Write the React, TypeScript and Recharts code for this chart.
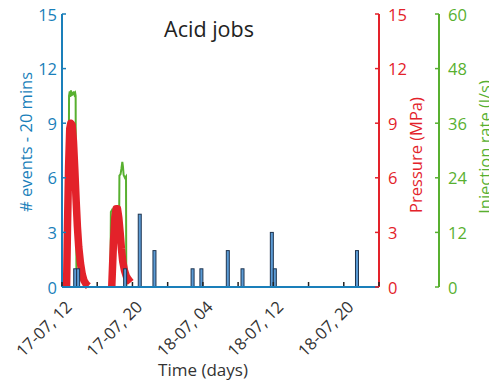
import React from 'react';
import { ComposedChart, Line, Bar, XAxis, YAxis } from 'recharts';

const BLUE = '#1a7fba';
const RED = '#e3222a';
const GREEN = '#58b030';
const BAR_FILL = '#5b9bd5';
const BAR_EDGE = '#1f3550';
const FONT = '"Open Sans", "DejaVu Sans", sans-serif';

// Time axis: hours after 17-07 12:00, a tick every 4 h, a label every 8 h
const timeTicks = [0, 4, 8, 12, 16, 20, 24, 28, 32, 36];
const timeTickLabels = ['17-07, 12', '', '17-07, 20', '', '18-07, 04', '', '18-07, 12', '', '18-07, 20', ''];

const eventTicks = [0, 3, 6, 9, 12, 15];
const pressureTicks = [0, 3, 6, 9, 12, 15];
const injectionTicks = [0, 12, 24, 36, 48, 60];

// Seismic events counted in 20-minute bins (bin midpoint, hours)
const eventHours = [1.5, 1.83, 7.17, 8.83, 10.5, 14.83, 15.83, 18.83, 20.5, 23.83, 24.17, 33.5];
const eventCounts = [1, 1, 1, 4, 2, 1, 1, 2, 1, 3, 1, 2];

// Wellhead pressure (MPa) during the two acid jobs; null splits the jobs
const pressureHours = [
  0.52, 0.62, 0.75, 0.88, 1.0, 1.15, 1.3, 1.45, 1.6, 1.75, 1.9, 2.1, 2.3, 2.5, 2.75, 3.0,
  4.0,
  5.65, 5.85, 6.0, 6.15, 6.3, 6.45, 6.6, 6.75, 6.9, 7.1, 7.3, 7.55, 7.8,
];
const pressureValues = [
  0, 3.2, 6.6, 8.7, 9.0, 8.9, 8.0, 6.5, 4.8, 3.3, 2.2, 1.3, 0.7, 0.35, 0.15, 0.05,
  null,
  0, 2.5, 3.8, 4.3, 4.3, 3.8, 3.0, 2.1, 1.4, 0.9, 0.6, 0.4, 0.25,
];

// Injection rate (l/s) during the two acid jobs; null splits the jobs
const injectionHours = [
  0.74, 0.76, 0.8, 0.88, 0.95, 1.02, 1.1, 1.18, 1.26, 1.34, 1.42, 1.5, 1.55, 1.57, 1.62, 1.64,
  4.0,
  5.5, 5.55, 5.7, 5.85, 6.0, 6.15, 6.3, 6.33, 6.48, 6.52, 6.65, 6.75, 6.85, 6.92, 7.0, 7.15, 7.27, 7.3,
];
const injectionValues = [
  0, 22, 42, 43, 41.8, 43.2, 42, 42.8, 42.2, 43, 42.3, 42.6, 42, 21, 20.5, 0,
  null,
  0, 16.5, 17, 16.4, 17, 16.5, 16, 11.5, 11, 24.5, 24.8, 26, 27.5, 26.5, 24.6, 24, 24.3, 0,
];

const eventData = eventHours.map((t, i) => ({ t, n: eventCounts[i] }));
const pressureData = pressureHours.map((t, i) => ({ t, p: pressureValues[i] }));
const injectionData = injectionHours.map((t, i) => ({ t, q: injectionValues[i] }));

const TICK_FONT = 16.5;

const TimeTick = (props: any) => {
  const { x, y, payload } = props;
  const idx = timeTicks.indexOf(payload.value);
  const label = idx >= 0 ? timeTickLabels[idx] : '';
  const lx = x + 11;
  const ly = y + 21;
  return (
    <g>
      <line x1={x} x2={x} y1={y - 1} y2={y - 5} stroke="#222" strokeWidth={1.5} />
      {label ? (
        <text
          x={lx}
          y={ly}
          transform={`rotate(-45 ${lx} ${ly})`}
          textAnchor="end"
          fill="#333"
          fontSize={TICK_FONT}
          fontFamily={FONT}
        >
          {label}
        </text>
      ) : null}
    </g>
  );
};

const LeftTick = (props: any) => {
  const { x, y, payload } = props;
  return (
    <g>
      <line x1={x} x2={x + 4} y1={y} y2={y} stroke={BLUE} strokeWidth={1.5} />
      <text x={x - 5} y={y} textAnchor="end" dominantBaseline="central" fill={BLUE} fontSize={TICK_FONT} fontFamily={FONT}>
        {payload.value}
      </text>
    </g>
  );
};

const makeRightTick = (color: string) => (props: any) => {
  const { x, y, payload } = props;
  return (
    <g>
      <line x1={x - 4} x2={x} y1={y} y2={y} stroke={color} strokeWidth={1.5} />
      <text x={x + 9} y={y} textAnchor="start" dominantBaseline="central" fill={color} fontSize={TICK_FONT} fontFamily={FONT}>
        {payload.value}
      </text>
    </g>
  );
};

const PressureTick = makeRightTick(RED);
const InjectionTick = makeRightTick(GREEN);

// Narrow outlined bar, centred on the bin midpoint
const EventBar = (props: any) => {
  const { x, y, width, height } = props;
  if (!height || height <= 0) return null;
  const cx = x + width / 2;
  return (
    <rect x={cx - 1.5} y={y} width={3} height={height} fill={BAR_FILL} stroke={BAR_EDGE} strokeWidth={1} />
  );
};

export default function App() {
  return (
    <div style={{ position: 'absolute', left: 0, top: 0, width: 489, height: 384, overflow: 'hidden', background: '#fff' }}>
      <ComposedChart
        width={489}
        height={384}
        data={eventData}
        margin={{ top: 14, right: 0, bottom: 0, left: 0 }}
      >
        <XAxis
          type="number"
          dataKey="t"
          domain={[0, 36]}
          ticks={timeTicks}
          interval={0}
          height={97}
          tickSize={0}
          tickMargin={0}
          tickLine={false}
          axisLine={{ stroke: BLUE, strokeWidth: 2 }}
          tick={TimeTick}
        />
        <YAxis
          yAxisId="l1"
          orientation="left"
          width={62}
          domain={[0, 15]}
          ticks={eventTicks}
          interval={0}
          tickSize={0}
          tickMargin={0}
          tickLine={false}
          axisLine={{ stroke: BLUE, strokeWidth: 2 }}
          tick={LeftTick}
        />
        <YAxis
          yAxisId="r1"
          orientation="right"
          width={60}
          domain={[0, 15]}
          ticks={pressureTicks}
          interval={0}
          tickSize={0}
          tickMargin={0}
          tickLine={false}
          axisLine={{ stroke: RED, strokeWidth: 2 }}
          tick={PressureTick}
        />
        <YAxis
          yAxisId="r2"
          orientation="right"
          width={50}
          domain={[0, 60]}
          ticks={injectionTicks}
          interval={0}
          tickSize={0}
          tickMargin={0}
          tickLine={false}
          axisLine={{ stroke: GREEN, strokeWidth: 2 }}
          tick={InjectionTick}
        />
        <Line
          yAxisId="r2"
          data={injectionData}
          dataKey="q"
          type="linear"
          stroke={GREEN}
          strokeWidth={2}
          dot={false}
          activeDot={false}
          connectNulls={false}
          isAnimationActive={false}
        />
        <Line
          yAxisId="r1"
          data={pressureData}
          dataKey="p"
          type="linear"
          stroke={RED}
          strokeWidth={7.5}
          strokeLinejoin="round"
          dot={false}
          activeDot={false}
          connectNulls={false}
          isAnimationActive={false}
        />
        <Bar
          yAxisId="l1"
          dataKey="n"
          shape={EventBar}
          zIndex={450}
          isAnimationActive={false}
        />
      </ComposedChart>
      <svg
        width={489}
        height={384}
        style={{ position: 'absolute', left: 0, top: 0, pointerEvents: 'none' }}
        fontFamily={FONT}
      >
        <text x={209} y={37} textAnchor="middle" fontSize={21.5} fill="#222">Acid jobs</text>
        <text x={203} y={376} textAnchor="middle" fontSize={17} fill="#333">Time (days)</text>
        <text x={32} y={142} transform="rotate(-90 32 142)" textAnchor="middle" fontSize={16.5} fill={BLUE}>
          # events - 20 mins
        </text>
        <text x={422} y={155} transform="rotate(-90 422 155)" textAnchor="middle" fontSize={16.5} fill={RED}>
          Pressure (MPa)
        </text>
        <text x={491} y={147} transform="rotate(-90 491 147)" textAnchor="middle" fontSize={16.5} fill={GREEN}>
          Injection rate (l/s)
        </text>
      </svg>
    </div>
  );
}
